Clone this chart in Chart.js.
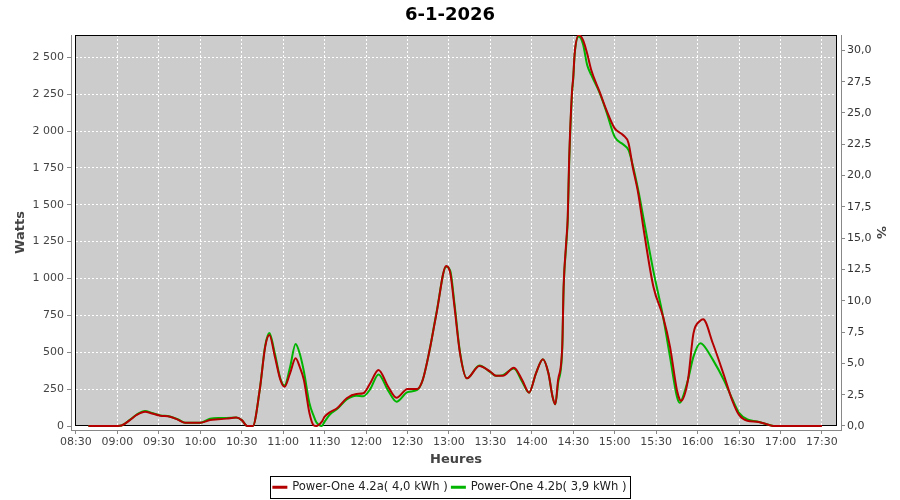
<!DOCTYPE html>
<html>
  <head>
    <meta charset="UTF-8" />
    <title>6-1-2026</title>
    <style>
      * {
        margin: 0;
        padding: 0;
        box-sizing: border-box;
      }

      body {
        background-color: #fff;
        font-family: "DejaVu Sans", sans-serif;
      }

      #wrap {
        width: 900px;
        height: 500px;
      }
    </style>
  </head>
  <body>
    <div id="wrap">
      <canvas id="powerChart" width="900" height="500"></canvas>
    </div>

    <script src="https://cdn.jsdelivr.net/npm/chart.js"></script>
    <script>
      // readings (HH:MM) and watts for both inverters
      const times = [
        "08:39", "08:50", "09:00", "09:03", "09:09", "09:14", "09:20", "09:25", "09:31", "09:38",
        "09:44", "09:49", "10:00", "10:07", "10:13", "10:19", "10:26", "10:30", "10:34", "10:38",
        "10:43", "10:47", "10:50", "10:54", "10:58", "11:01", "11:05", "11:09", "11:12", "11:15",
        "11:19", "11:22", "11:24", "11:28", "11:30", "11:34", "11:39", "11:46", "11:53", "11:58",
        "12:03", "12:09", "12:16", "12:22", "12:30", "12:37", "12:41", "12:46", "12:51", "12:58",
        "13:01", "13:04", "13:08", "13:13", "13:22", "13:30", "13:34", "13:39", "13:47", "13:53",
        "13:58", "14:03", "14:08", "14:12", "14:15", "14:17", "14:19", "14:22", "14:23", "14:25",
        "14:26", "14:27", "14:29", "14:30", "14:31", "14:34", "14:37", "14:40", "14:43", "14:49",
        "14:54", "15:00", "15:06", "15:10", "15:13", "15:17", "15:21", "15:28", "15:35", "15:40",
        "15:45", "15:47", "15:48", "15:53", "15:57", "16:02", "16:04", "16:11", "16:19", "16:25",
        "16:30", "16:36", "16:43", "16:50", "16:55", "17:30"
      ];

      const powerA = [
        0, 0, 0, 3, 40, 75, 97, 85, 70, 63,
        42, 22, 22, 40, 45, 50, 57, 40, 0, 0,
        244, 538, 617, 470, 312, 266, 359, 459, 400, 312,
        88, 5, 0, 30, 63, 95, 120, 188, 217, 222,
        290, 380, 266, 192, 251, 251, 312, 515, 764, 1085,
        1035, 809, 493, 323, 407, 368, 341, 341, 395, 312,
        226, 357, 452, 357, 199, 147, 312, 538, 944, 1261,
        1419, 1803, 2256, 2368, 2527, 2651, 2617, 2527, 2414, 2267,
        2142, 2018, 1973, 1917, 1758, 1578, 1329, 944, 741, 538,
        244, 180, 172, 312, 628, 714, 723, 561, 346, 176,
        75, 36, 29, 12, 0, 0
      ];

      const powerB = [
        0, 0, 0, 3, 42, 78, 102, 88, 72, 65,
        44, 22, 22, 50, 55, 55, 57, 40, 0, 0,
        244, 545, 630, 490, 320, 275, 400, 556, 490, 370,
        154, 70, 25, 0, 30, 80, 115, 180, 205, 202,
        250, 350, 240, 165, 230, 245, 312, 515, 770, 1080,
        1050, 830, 500, 323, 410, 365, 341, 345, 390, 300,
        226, 357, 452, 357, 199, 147, 290, 520, 930, 1240,
        1400, 1780, 2240, 2360, 2520, 2640, 2590, 2450, 2380, 2260,
        2130, 1960, 1910, 1870, 1770, 1600, 1400, 1050, 741, 470,
        200, 158, 165, 312, 470, 561, 550, 450, 312, 185,
        90, 45, 30, 12, 0, null
      ];

      const seriesNames = ["Power-One 4.2a( 4,0 kWh )", "Power-One 4.2b( 3,9 kWh )"];

      // axis ticks
      const timeTicks = [
        "08:30", "09:00", "09:30", "10:00", "10:30", "11:00", "11:30", "12:00", "12:30", "13:00",
        "13:30", "14:00", "14:30", "15:00", "15:30", "16:00", "16:30", "17:00", "17:30"
      ];
      const wattTicks = [0, 250, 500, 750, 1000, 1250, 1500, 1750, 2000, 2250, 2500];
      const pctTicks = [0, 2.5, 5, 7.5, 10, 12.5, 15, 17.5, 20, 22.5, 25, 27.5, 30];

      const toMin = (t) => {
        const [h, m] = t.split(":").map(Number);
        return h * 60 + m;
      };
      const fmtTime = (v) => {
        const h = Math.floor(v / 60);
        const m = Math.round(v % 60);
        return String(h).padStart(2, "0") + ":" + String(m).padStart(2, "0");
      };
      const fmtWatts = (v) =>
        v >= 1000 ? Math.floor(v / 1000) + " " + String(v % 1000).padStart(3, "0") : String(v);

      const setTicks = (values) => (scale) => {
        scale.ticks = values.map((value) => ({ value }));
      };

      // legend sits a little lower than chart.js puts it
      const legendDrop = 3;

      // gray plot area with black frame, inset from the axis lines; box round the legend
      const plotFrame = {
        id: "plotFrame",
        beforeDraw(chart) {
          const a = chart.chartArea;
          const ctx = chart.ctx;
          ctx.save();
          ctx.fillStyle = "#cccccc";
          ctx.fillRect(a.left + 4, a.top, a.width - 8, a.height - 4);
          ctx.restore();
        },
        beforeDatasetsDraw(chart) {
          const a = chart.chartArea;
          const ctx = chart.ctx;
          ctx.save();
          ctx.strokeStyle = "#000";
          ctx.lineWidth = 1;
          ctx.strokeRect(a.left + 4.5, a.top + 0.5, a.width - 9, a.height - 5);
          ctx.restore();
        },
        afterDraw(chart) {
          const boxes = chart.legend.legendHitBoxes;
          if (!boxes || !boxes.length) return;
          const ctx = chart.ctx;
          const x1 = Math.min(...boxes.map((b) => b.left)) - 3;
          const x2 = Math.max(...boxes.map((b) => b.left + b.width)) + 4;
          const y1 = boxes[0].top - 5;
          const y2 = boxes[0].top + boxes[0].height + 5;
          ctx.save();
          ctx.strokeStyle = "#000";
          ctx.lineWidth = 1;
          ctx.strokeRect(Math.round(x1) + 0.5, Math.round(y1) + 0.5, Math.round(x2 - x1), Math.round(y2 - y1));
          ctx.restore();
        },
      };

      const axisGray = "#888";
      const tickFont = { family: "DejaVu Sans", size: 11 };
      const titleFont = { family: "DejaVu Sans", size: 13, weight: "bold" };

      const xs = times.map(toMin);

      const ctx = document.getElementById("powerChart").getContext("2d");
      new Chart(ctx, {
        type: "line",
        data: {
          datasets: [
            {
              label: seriesNames[0],
              data: xs.map((x, i) => ({ x, y: powerA[i] })),
              borderColor: "#b40000",
              backgroundColor: "#b40000",
            },
            {
              label: seriesNames[1],
              data: xs.map((x, i) => ({ x, y: powerB[i] })),
              borderColor: "#00b400",
              backgroundColor: "#00b400",
            },
          ],
        },
        options: {
          responsive: false,
          animation: false,
          layout: { padding: { top: 0, left: 0, right: 0, bottom: -legendDrop } },
          elements: {
            line: { borderWidth: 2, cubicInterpolationMode: "monotone", fill: false },
            point: { radius: 0 },
          },
          plugins: {
            title: {
              display: true,
              text: "6-1-2026",
              color: "#000",
              font: { family: "DejaVu Sans", size: 18, weight: "bold" },
              padding: { top: 5, bottom: 8.4 },
            },
            legend: {
              position: "bottom",
              labels: {
                color: "#222",
                font: { family: "DejaVu Sans", size: 11.6 },
                boxWidth: 13,
                boxHeight: 1,
                padding: 4,
              },
            },
            tooltip: { enabled: false },
          },
          scales: {
            x: {
              type: "linear",
              min: 506.4,
              max: 1063.8,
              afterBuildTicks: setTicks(timeTicks.map(toMin)),
              afterFit: (s) => {
                s.height = s.chart.height + legendDrop - 430 - s.chart.legend.height;
              },
              ticks: {
                autoSkip: false,
                maxRotation: 0,
                color: "#444",
                font: tickFont,
                padding: 2,
                callback: (v) => fmtTime(v),
              },
              grid: { color: "#fff", tickColor: axisGray, tickLength: 4 },
              border: { color: axisGray, dash: [2, 2] },
              title: {
                display: true,
                text: "Heures",
                color: "#444",
                font: titleFont,
                padding: { top: 2, bottom: 10 },
              },
            },
            y: {
              position: "left",
              min: -27.1,
              max: 2651,
              afterBuildTicks: setTicks(wattTicks),
              afterFit: (s) => {
                s.width = 71;
              },
              ticks: {
                color: "#444",
                font: tickFont,
                padding: 3,
                callback: (v) => fmtWatts(v),
              },
              grid: { color: "#fff", tickColor: axisGray, tickLength: 4 },
              border: { color: axisGray, dash: [2, 2] },
              title: {
                display: true,
                text: "Watts",
                color: "#444",
                font: titleFont,
                padding: { top: 13, bottom: 0 },
              },
            },
            y2: {
              position: "right",
              min: -0.32,
              max: 31.23,
              afterBuildTicks: setTicks(pctTicks),
              afterFit: (s) => {
                s.width = 59;
              },
              ticks: {
                color: "#333",
                font: tickFont,
                padding: 2,
                callback: (v) => v.toFixed(1).replace(".", ","),
              },
              grid: { drawOnChartArea: false, tickColor: axisGray, tickLength: 4 },
              border: { color: axisGray },
              title: {
                display: true,
                text: "%",
                color: "#444",
                font: titleFont,
                padding: { top: 12, bottom: 0 },
              },
            },
          },
        },
        plugins: [plotFrame],
      });
    </script>
  </body>
</html>
